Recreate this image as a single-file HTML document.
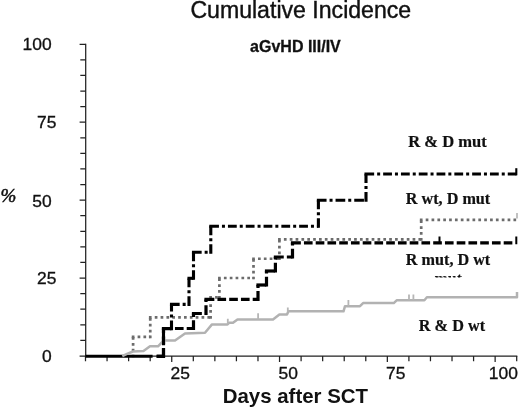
<!DOCTYPE html>
<html>
<head>
<meta charset="utf-8">
<title>Cumulative Incidence</title>
<style>
html,body{margin:0;padding:0;background:#fff;}
svg{display:block;}
.sans{font-family:"Liberation Sans",Arial,Helvetica,sans-serif;}
.serif{font-family:"Liberation Serif","Times New Roman",Times,serif;font-weight:700;}
</style>
</head>
<body>
<svg width="520" height="409" viewBox="0 0 520 409">
<rect x="0" y="0" width="520" height="409" fill="#ffffff"/>

<!-- titles -->
<text class="sans" x="190.4" y="18.1" font-size="23.1" fill="#111" stroke="#111" stroke-width="0.4">Cumulative Incidence</text>
<text class="sans" x="250.1" y="52.4" font-size="16" font-weight="700" fill="#111" stroke="#111" stroke-width="0.3">aGvHD III/IV</text>
<text class="sans" transform="translate(222.7,402.7) scale(1.038,1)" font-size="19.7" font-weight="700" fill="#111">Days after SCT</text>

<!-- axis labels -->
<g class="sans" font-size="16" fill="#111" stroke="#111" stroke-width="0.3">
<text transform="translate(22.6,50) scale(1.09,1)">100</text>
<text transform="translate(37,127.8) scale(1.09,1)">75</text>
<text transform="translate(32.2,206.6) scale(1.09,1)">50</text>
<text transform="translate(37,284.4) scale(1.09,1)">25</text>
<text transform="translate(42,362) scale(1.09,1)">0</text>
<text transform="translate(170.5,379) scale(1.09,1)">25</text>
<text transform="translate(278.5,379) scale(1.09,1)">50</text>
<text transform="translate(386,379) scale(1.09,1)">75</text>
<text transform="translate(488.8,379) scale(1.09,1)">100</text>
</g>
<text class="serif" x="0.5" y="201.8" font-size="19" font-style="italic" style="font-weight:400" fill="#111" stroke="#111" stroke-width="0.5">%</text>

<!-- axes -->
<g stroke="#222" stroke-width="1.25" fill="none">
<path d="M85.7 43.7V356.1H517.3"/>
<path d="M79.6 44.25H85.7M80.3 59.84H85.7M80.3 75.42H85.7M80.3 91.01H85.7M80.3 106.60H85.7M79.6 122.19H85.7M80.3 137.78H85.7M80.3 153.36H85.7M80.3 168.95H85.7M80.3 184.54H85.7M79.6 200.12H85.7M80.3 215.71H85.7M80.3 231.30H85.7M80.3 246.89H85.7M80.3 262.48H85.7M79.6 278.06H85.7M80.3 293.65H85.7M80.3 309.24H85.7M80.3 324.82H85.7M80.3 340.41H85.7M79.6 356.00H85.7"/>
<path d="M85.50 356V361.3M107.06 356V361.3M128.62 356V361.3M150.18 356V361.3M171.74 356V362.0M193.30 356V361.3M214.86 356V361.3M236.42 356V361.3M257.98 356V361.3M279.54 356V362.0M301.10 356V361.3M322.66 356V361.3M344.22 356V361.3M365.78 356V361.3M387.34 356V362.0M408.90 356V361.3M430.46 356V361.3M452.02 356V361.3M473.58 356V361.3M495.14 356V362.0M516.70 356V361.3"/>
</g>

<!-- gray dotted: R wt, D mut -->
<g fill="none" stroke="#6c6c6c" stroke-width="2.7">
<path d="M133.10 357.35L133.10 336.90" stroke-dasharray="2.7 3.15"/>
<path d="M131.75 336.90L150.25 336.90" stroke-dasharray="2.7 3.15"/>
<path d="M150.25 338.25L150.25 317.30" stroke-dasharray="2.7 3.15"/>
<path d="M148.90 317.30L210.60 317.30" stroke-dasharray="2.7 3.15"/>
<path d="M210.60 318.65L210.60 297.30" stroke-dasharray="2.7 3.15"/>
<path d="M209.25 297.30L219.40 297.30" stroke-dasharray="2.7 3.15"/>
<path d="M219.40 298.65L219.40 278.00" stroke-dasharray="2.7 3.15"/>
<path d="M218.05 278.00L253.50 278.00" stroke-dasharray="2.7 3.15"/>
<path d="M253.50 279.35L253.50 258.75" stroke-dasharray="2.7 3.15"/>
<path d="M252.15 258.75L279.40 258.75" stroke-dasharray="2.7 3.15"/>
<path d="M279.40 260.10L279.40 239.30" stroke-dasharray="2.7 3.15"/>
<path d="M278.05 239.30L421.20 239.30" stroke-dasharray="2.7 3.15"/>
<path d="M421.20 240.65L421.20 219.90" stroke-dasharray="2.7 3.15"/>
<path d="M419.85 219.90L517.50 219.90" stroke-dasharray="2.7 3.15"/>
</g>
<path fill="none" stroke="#999" stroke-width="1.2" d="M517 218.5V213"/>

<!-- black baseline (overlap of both black curves) -->
<path fill="none" stroke="#000" stroke-width="3" d="M85.5 356.3H152.6"/>

<!-- black dashed: R mut, D wt -->
<g fill="none" stroke="#000" stroke-width="3.2">
<path d="M156.60 356.30L163.50 356.30" stroke-dasharray="9.95 3.1"/>
<path d="M163.50 357.90L163.50 328.50" stroke-dasharray="9.95 3.1 8.65 3.1 8.65 3.1"/>
<path d="M161.90 328.50L193.50 328.50" stroke-dasharray="9.95 3.1 8.65 3.1 8.65 3.1"/>
<path d="M193.50 330.10L193.50 313.50" stroke-dasharray="9.95 3.1 8.65 3.1"/>
<path d="M191.90 313.50L206.00 313.50" stroke-dasharray="9.95 3.1 8.65 3.1"/>
<path d="M206.00 315.10L206.00 299.40" stroke-dasharray="9.95 3.1 8.65 3.1"/>
<path d="M204.40 299.40L258.00 299.40" stroke-dasharray="9.95 3.1 8.65 3.1 8.65 3.1 8.65 3.1 8.65 3.1"/>
<path d="M258.00 301.00L258.00 285.00" stroke-dasharray="9.95 3.1 8.65 3.1"/>
<path d="M256.40 285.00L266.50 285.00" stroke-dasharray="9.95 3.1"/>
<path d="M266.50 286.60L266.50 271.00" stroke-dasharray="9.95 3.1 8.65 3.1"/>
<path d="M264.90 271.00L275.40 271.00" stroke-dasharray="9.95 3.1"/>
<path d="M275.40 272.60L275.40 257.00" stroke-dasharray="9.95 3.1 8.65 3.1"/>
<path d="M273.80 257.00L292.50 257.00" stroke-dasharray="9.95 3.1 8.65 3.1"/>
<path d="M292.50 258.60L292.50 242.80" stroke-dasharray="9.95 3.1 8.65 3.1"/>
<path d="M290.90 242.80L513.20 242.80" stroke-dasharray="9.95 3.1 8.65 3.1 8.65 3.1 8.65 3.1 8.65 3.1 8.65 3.1 8.65 3.1 8.65 3.1 8.65 3.1 8.65 3.1 8.65 3.1 8.65 3.1 8.65 3.1 8.65 3.1 8.65 3.1 8.65 3.1 8.65 3.1 8.65 3.1 8.65 3.1"/>
</g>
<path fill="none" stroke="#000" stroke-width="2" d="M439.5 243.3V236.4M516.3 244.3V236.5"/>

<!-- black dash-dot: R & D mut -->
<g fill="none" stroke="#000" stroke-width="3.1">
<path d="M156.65 356.30L163.50 356.30" stroke-dasharray="9.7 3"/>
<path d="M163.50 357.85L163.50 328.70" stroke-dasharray="9.7 3 3 3 8.8 3"/>
<path d="M161.95 328.70L171.50 328.70" stroke-dasharray="9.7 3"/>
<path d="M171.50 330.25L171.50 304.40" stroke-dasharray="9.7 3 3 3 8.8 3"/>
<path d="M169.95 304.40L189.00 304.40" stroke-dasharray="9.7 3 3 3 8.8 3"/>
<path d="M189.00 305.95L189.00 278.30" stroke-dasharray="9.7 3 3 3 8.8 3"/>
<path d="M187.45 278.30L193.50 278.30" stroke-dasharray="9.7 3"/>
<path d="M193.50 279.85L193.50 252.30" stroke-dasharray="9.7 3 3 3 8.8 3"/>
<path d="M191.95 252.30L210.80 252.30" stroke-dasharray="9.7 3 3 3 8.8 3"/>
<path d="M210.80 253.85L210.80 226.30" stroke-dasharray="9.7 3 3 3 8.8 3"/>
<path d="M209.25 226.30L318.40 226.30" stroke-dasharray="9.7 3 3 3 8.8 3 3 3 8.8 3 3 3 8.8 3 3 3 8.8 3 3 3 8.8 3 3 3 8.8 3"/>
<path d="M318.40 227.85L318.40 200.20" stroke-dasharray="9.7 3 3 3 8.8 3"/>
<path d="M316.85 200.20L366.00 200.20" stroke-dasharray="9.7 3 3 3"/>
<path d="M366.00 201.75L366.00 174.00" stroke-dasharray="9.7 3 3 3 8.8 3"/>
<path d="M364.45 174.00L517.30 174.00" stroke-dasharray="9.7 3 3 3 8.8 3 3 3 8.8 3 3 3 8.8 3 3 3 8.8 3 3 3 8.8 3 3 3 8.8 3 3 3 8.8 3 3 3 8.8 3"/>
</g>

<path fill="none" stroke="#000" stroke-width="2.1" d="M516.3 175.3V168.2"/>

<!-- light gray solid: R & D wt -->
<path fill="none" stroke="#b2b2b2" stroke-width="2.5" stroke-linejoin="round" d="M122.3 356.2L127 353.8L133 351.5L143.5 351L150 346.3H158L163.5 340.6H175L185 333.5L205 332.8L212 324.4H227.5L229 322.8H233L237.5 319.4H273L279.4 314.4H287L288.5 311.3H343.5L345 306.2H360L363.1 303.1H393.8L396.9 300.2H424.4L426.9 297.3H517V292"/>
<g stroke="#b6b6b6" stroke-width="1.8" fill="none">
<path d="M227.8 318.8V324M258.1 313.2V319.4M287.8 307.5V312M348.4 300V306M409 294.4V300M413.4 294.4V300"/>
</g>

<path fill="none" stroke="#000" stroke-width="3.1" d="M163.5 344V337"/>

<!-- curve labels -->
<g class="serif" font-size="16" fill="#111" stroke="#111" stroke-width="0.2">
<text transform="translate(408.2,146.9) scale(1.035,1)">R &amp; D mut</text>
<text transform="translate(405.8,203.6) scale(1.012,1)">R wt, D mut</text>
<text transform="translate(405.8,265.1) scale(1.012,1)">R mut, D wt</text>
<text transform="translate(418.8,330.8) scale(1.015,1)">R &amp; D wt</text>
</g>
<clipPath id="c"><rect x="430" y="270" width="40" height="7.4"/></clipPath>
<text class="serif" clip-path="url(#c)" x="434.5" y="283.9" font-size="16" fill="#111">mut</text>
</svg>
</body>
</html>
